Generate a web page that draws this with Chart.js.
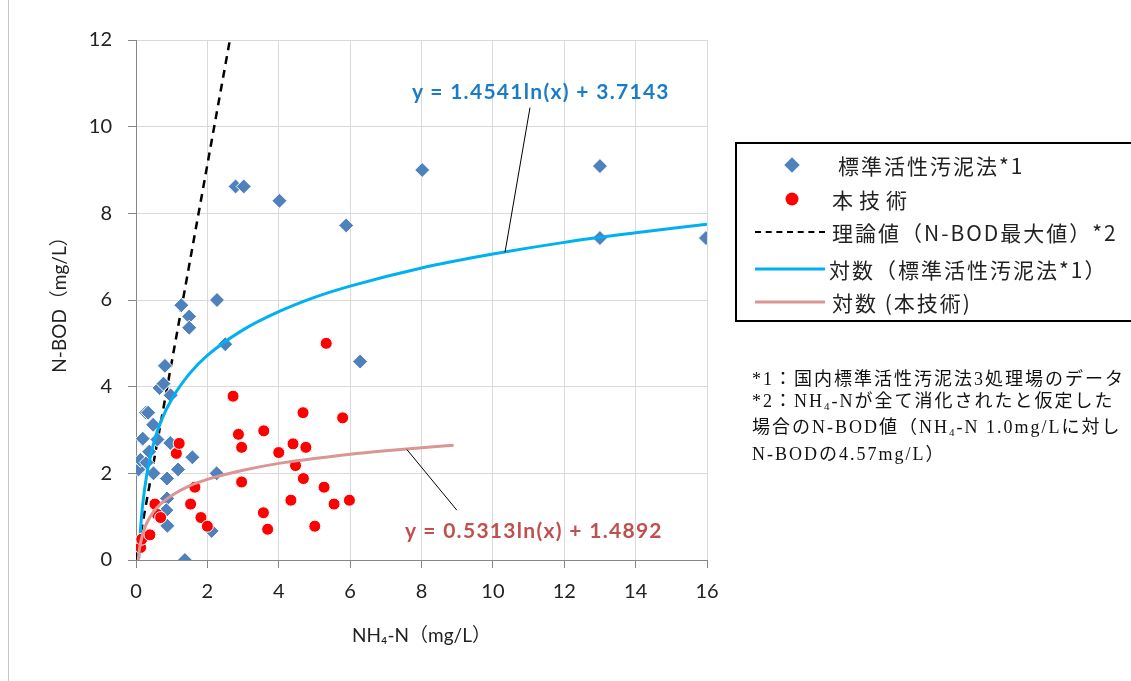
<!DOCTYPE html>
<html lang="ja">
<head>
<meta charset="UTF-8">
<title>NH4-N と N-BOD</title>
<script src="https://cdn.jsdelivr.net/npm/chart.js"></script>
<style>
  html, body { margin: 0; background: #fff; }
  #wrap { position: relative; width: 1131px; height: 681px; overflow: hidden;
          font-family: 'Lato', 'Noto Sans CJK JP', sans-serif; color: #222; }
  #frame { position: absolute; left: 8px; top: 0; width: 1px; height: 681px; background: #c8c8c8; }
  #chartBox { position: absolute; left: 0; top: 0; width: 1131px; height: 681px; }
  .eq { position: absolute; font-weight: bold; font-size: 21px; letter-spacing: 1.3px; white-space: nowrap; }
  #legend { position: absolute; left: 735px; top: 142px; width: 420px; height: 176px;
            border: 2px solid #000; }
  .row { position: absolute; left: 0; height: 30px; width: 400px;
         font-family: 'Noto Sans CJK JP', sans-serif; font-size: 21px; letter-spacing: 2px; }
  .row span.t { position: absolute; top: 50%; transform: translateY(-50%); white-space: nowrap; }
  .mk { position: absolute; top: 50%; }
  .dia { width: 11px; height: 11px; background: #4f81bd; transform: translate(-50%,-50%) rotate(45deg); }
  .dot { width: 13px; height: 13px; border-radius: 50%; background: #ff0000; transform: translate(-50%,-50%); }
  .ln { left: 18px; width: 70px; height: 0; transform: translateY(-50%); }
  #notes { position: absolute; left: 752px; top: 369px; font-family: 'Liberation Serif', 'Noto Sans CJK JP', serif;
           font-size: 18px; line-height: 21.5px; letter-spacing: 2px; white-space: nowrap; color: #111; }
  sub { font-size: 11px; vertical-align: -3px; }
</style>
</head>
<body>
<div id="wrap">
  <div id="frame"></div>
  <div id="chartBox"><canvas id="c"></canvas></div>

  <div class="eq" style="left:412px; top:78px; color:#1a7cc8;">y = 1.4541ln(x) + 3.7143</div>
  <div class="eq" style="left:405px; top:517px; color:#c0504d;">y = 0.5313ln(x) + 1.4892</div>

  <div id="legend">
    <div class="row" style="top:6px"><div class="mk dia" style="left:55px"></div><span class="t" style="left:101px">標準活性汚泥法*1</span></div>
    <div class="row" style="top:40px"><div class="mk dot" style="left:55px"></div><span class="t" style="left:95px; letter-spacing:6px">本技術</span></div>
    <div class="row" style="top:73px"><div class="mk ln" style="border-top:2.5px dashed #000"></div><span class="t" style="left:95px">理論値（N-BOD最大値）*2</span></div>
    <div class="row" style="top:110px"><div class="mk ln" style="border-top:3px solid #00b0f0"></div><span class="t" style="left:92px">対数（標準活性汚泥法*1）</span></div>
    <div class="row" style="top:143px"><div class="mk ln" style="border-top:3px solid #d99694"></div><span class="t" style="left:95px">対数 (本技術)</span></div>
  </div>

  <div id="notes">
    *1：国内標準活性汚泥法3処理場のデータ<br>
    *2：NH<sub>4</sub>-Nが全て消化されたと仮定した<br>
    場合のN-BOD値（NH<sub>4</sub>-N 1.0mg/Lに対し<br>
    N-BODの4.57mg/L）
  </div>
</div>
<script>
  // 標準活性汚泥法 (blue diamonds)
  const stdX = [0.07,0.12,0.19,0.28,0.34,0.30,0.37,0.48,0.49,0.60,0.66,0.77,0.81,0.87,0.87,0.85,0.88,0.97,0.96,1.18,1.27,1.37,1.49,1.49,1.58,2.12,2.26,2.27,2.50,2.79,3.02,4.02,5.89,6.28,8.02,13.0,13.0,15.97];
  const stdY = [2.09,2.31,2.80,3.40,3.40,2.25,2.50,3.12,2.00,2.78,3.97,4.07,4.48,1.88,1.42,1.15,0.79,3.80,2.70,2.09,5.88,0.00,5.62,5.36,2.37,0.67,2.00,6.00,4.98,8.62,8.62,8.29,7.72,4.58,9.00,9.09,7.43,7.43];

  // 本技術 (red circles)
  const honX = [0.13,0.16,0.39,0.53,0.60,0.69,1.13,1.21,1.53,1.65,1.82,2.00,2.72,2.87,2.96,2.96,3.58,3.57,3.69,4.00,4.34,4.40,4.47,4.68,4.69,4.76,5.01,5.27,5.33,5.55,5.79,5.98];
  const honY = [0.29,0.48,0.58,1.29,1.05,0.98,2.46,2.69,1.29,1.68,0.98,0.78,3.78,2.90,2.60,1.80,2.98,1.09,0.71,2.48,1.38,2.68,2.18,3.40,1.88,2.60,0.78,1.68,5.00,1.29,3.28,1.38];

  // 理論値 line
  const theoX = [0, 2.63];
  const theoY = [0, 12];

  // trend curves
  const stdTrendX = [0.08,0.1,0.15,0.2,0.3,0.4,0.5,0.7,1,1.5,2,3,4,5,6,8,10,12,14,16];
  const stdTrendY = [0.04,0.37,0.96,1.37,1.96,2.38,2.71,3.20,3.71,4.30,4.72,5.31,5.73,6.06,6.32,6.74,7.06,7.33,7.55,7.75];
  const honTrendX = [0.06,0.1,0.2,0.3,0.5,0.7,1,1.5,2,3,4,5,6,7,8,8.9];
  const honTrendY = [0.00,0.27,0.63,0.85,1.12,1.30,1.49,1.71,1.86,2.07,2.23,2.34,2.44,2.52,2.59,2.65];

  // label leader lines
  const leadBlueX = [11.04, 10.34], leadBlueY = [10.44, 7.10];
  const leadRedX = [7.59, 8.99], leadRedY = [2.55, 1.15];

  const pts = (xs, ys) => xs.map((x, i) => ({ x, y: ys[i] }));

  const ctx = document.getElementById('c').getContext('2d');
  new Chart(ctx, {
    type: 'scatter',
    data: {
      datasets: [
        { label: 'leadB', data: pts(leadBlueX, leadBlueY), showLine: true, borderColor: '#000', borderWidth: 1, pointRadius: 0 },
        { label: 'leadR', data: pts(leadRedX, leadRedY), showLine: true, borderColor: '#000', borderWidth: 1, pointRadius: 0 },
        { label: '対数 (本技術)', data: pts(honTrendX, honTrendY), showLine: true, borderColor: '#d99694', borderWidth: 3, pointRadius: 0, cubicInterpolationMode: 'monotone' },
        { label: '本技術', data: pts(honX, honY), pointStyle: 'circle', pointRadius: 6, backgroundColor: '#ff0000', borderColor: '#fff', borderWidth: 1 },
        { label: '対数（標準活性汚泥法*1）', data: pts(stdTrendX, stdTrendY), showLine: true, borderColor: '#00b0f0', borderWidth: 3, pointRadius: 0, cubicInterpolationMode: 'monotone' },
        { label: '標準活性汚泥法*1', data: pts(stdX, stdY), pointStyle: 'rectRot', pointRadius: 7.5, backgroundColor: '#4f81bd', borderColor: '#fff', borderWidth: 1 },
        { label: '理論値', data: pts(theoX, theoY), showLine: true, borderColor: '#000', borderWidth: 2.5, borderDash: [8, 6], pointRadius: 0 }
      ]
    },
    options: {
      responsive: true,
      maintainAspectRatio: false,
      animation: false,
      layout: { padding: { left: 0, top: 40, right: 424, bottom: 0 } },
      plugins: { legend: { display: false }, tooltip: { enabled: false } },
      scales: {
        x: {
          type: 'linear', min: 0, max: 16,
          afterFit: s => { s.height = 121; },
          ticks: { stepSize: 2, color: '#222', padding: 12, font: { family: 'Lato', size: 20 } },
          grid: { color: '#d9d9d9', tickColor: '#868686', tickLength: 8 },
          border: { color: '#868686' },
          title: { display: true, text: 'NH₄-N（mg/L）', color: '#222', padding: { top: 0, bottom: 34 },
                   font: { family: "'Lato', 'Noto Sans CJK JP'", size: 19 } }
        },
        y: {
          min: 0, max: 12,
          afterFit: s => { s.width = 136; },
          ticks: { stepSize: 2, color: '#222', padding: 16, font: { family: 'Lato', size: 20 } },
          grid: { color: '#d9d9d9', tickColor: '#868686', tickLength: 8 },
          border: { color: '#868686' },
          title: { display: true, text: 'N-BOD（mg/L）', color: '#222', padding: { top: 48, bottom: 0 },
                   font: { family: "'Lato', 'Noto Sans CJK JP'", size: 19 } }
        }
      }
    }
  });
</script>
</body>
</html>
